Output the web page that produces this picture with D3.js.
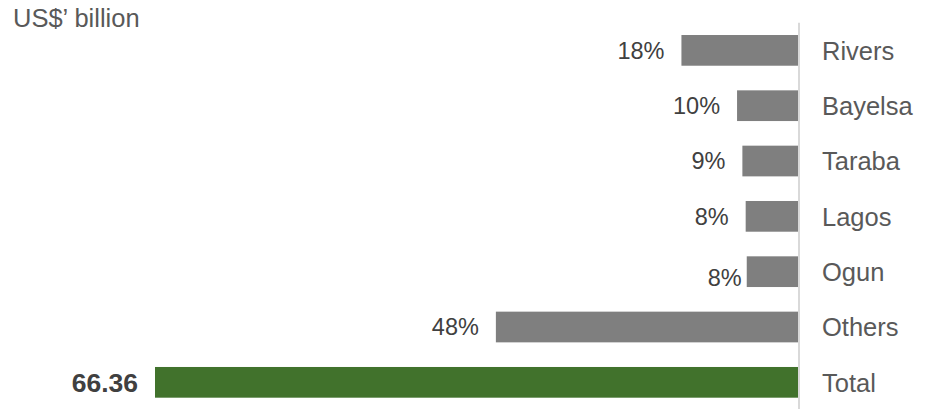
<!DOCTYPE html>
<html>
<head>
<meta charset="utf-8">
<script src="https://cdn.jsdelivr.net/npm/d3@7"></script>
<style>
  body { margin: 0; background: #fff; }
  svg { display: block; font-family: Arial, "Liberation Sans", sans-serif; }
</style>
</head>
<body>
<svg id="chart" width="932" height="411"></svg>
<script>
// states, value in US$ billion, and the share labels shown on the chart
var categories = ['Rivers', 'Bayelsa', 'Taraba', 'Lagos', 'Ogun', 'Others', 'Total'];
var values = [12.03, 6.29, 5.74, 5.40, 5.29, 31.18, 66.36];
var shareLabels = ['18%', '10%', '9%', '8%', '8%', '48%', '66.36'];
var unitLabel = 'US$\u2019 billion';

var svg = d3.select('#chart');

var axisX = 798,
    leftX = 155;

var xScale = d3.scaleLinear().domain([0, 66.36]).range([axisX, leftX]);
var yScale = d3.scaleBand()
    .domain(categories)
    .range([22.7, 410])
    .paddingInner(0.445)
    .paddingOuter(0.2225);

svg.append('text')
    .attr('x', 13)
    .attr('y', 27)
    .attr('font-size', 25.5)
    .attr('fill', '#595959')
    .text(unitLabel);

svg.selectAll('.bar')
    .data(categories)
    .enter()
    .append('rect')
    .attr('class', 'bar')
    .attr('x', function (d, i) { return xScale(values[i]); })
    .attr('y', function (d) { return yScale(d); })
    .attr('width', function (d, i) { return axisX - xScale(values[i]); })
    .attr('height', yScale.bandwidth())
    .attr('fill', function (d) { return d === 'Total' ? '#41722c' : '#7f7f7f'; });

// vertical axis line
svg.append('line')
    .attr('x1', axisX + 1).attr('x2', axisX + 1)
    .attr('y1', yScale.range()[0]).attr('y2', yScale.range()[1] - 1)
    .attr('stroke', '#d9d9d9')
    .attr('stroke-width', 2);

// category names on the right
svg.selectAll('.cat')
    .data(categories)
    .enter()
    .append('text')
    .attr('class', 'cat')
    .attr('x', axisX + 24)
    .attr('y', function (d) { return yScale(d) + yScale.bandwidth() / 2; })
    .attr('dy', '0.36em')
    .attr('font-size', 25.5)
    .attr('fill', '#595959')
    .text(function (d) { return d; });

// share labels left of the bars (Ogun sits low, as in the original)
svg.selectAll('.val')
    .data(categories)
    .enter()
    .append('text')
    .attr('class', 'val')
    .attr('x', function (d, i) {
        return xScale(values[i]) - (d === 'Ogun' ? 5 : 17);
    })
    .attr('y', function (d) {
        if (d === 'Ogun') return yScale(d) + yScale.bandwidth() - 1;
        return yScale(d) + yScale.bandwidth() / 2;
    })
    .attr('dy', function (d) { return d === 'Ogun' ? 0 : '0.36em'; })
    .attr('text-anchor', 'end')
    .attr('font-size', function (d) { return d === 'Total' ? 26.5 : 23.5; })
    .attr('font-weight', function (d) { return d === 'Total' ? 'bold' : 'normal'; })
    .attr('fill', '#404040')
    .text(function (d, i) { return shareLabels[i]; });
</script>
</body>
</html>
